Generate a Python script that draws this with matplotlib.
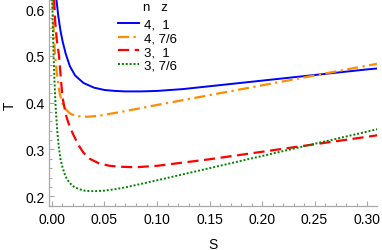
import matplotlib
matplotlib.use("Agg")
import matplotlib.pyplot as plt
from matplotlib.ticker import MultipleLocator

plt.rcParams['font.family'] = ['Liberation Sans', 'DejaVu Sans']

# values
S_41 = [0.004, 0.006, 0.008, 0.010, 0.013, 0.017, 0.022, 0.030, 0.040, 0.050, 0.060, 0.070,
        0.085, 0.100, 0.125, 0.150, 0.175, 0.200, 0.225, 0.250, 0.275, 0.300, 0.315]
T_41 = [0.625, 0.585, 0.555, 0.532, 0.505, 0.478, 0.458, 0.442, 0.432, 0.427, 0.425, 0.424,
        0.424, 0.425, 0.429, 0.435, 0.441, 0.447, 0.453, 0.459, 0.465, 0.471, 0.474]

S_476 = [0.0005, 0.001, 0.002, 0.003, 0.005, 0.0075, 0.010, 0.013, 0.017, 0.022, 0.028, 0.035,
         0.045, 0.055, 0.070, 0.100, 0.150, 0.200, 0.250, 0.300, 0.315]
T_476 = [0.630, 0.590, 0.535, 0.500, 0.455, 0.418, 0.398, 0.386, 0.377, 0.372, 0.370, 0.370,
         0.372, 0.376, 0.382, 0.395, 0.416, 0.437, 0.458, 0.479, 0.485]

S_31 = [0.002, 0.003, 0.0045, 0.0067, 0.0085, 0.010, 0.012, 0.014, 0.017, 0.020, 0.025, 0.030,
        0.036, 0.045, 0.055, 0.065, 0.080, 0.100, 0.150, 0.200, 0.250, 0.300, 0.315]
T_31 = [0.625, 0.575, 0.535, 0.500, 0.450, 0.412, 0.388, 0.368, 0.348, 0.333, 0.310, 0.293,
        0.280, 0.270, 0.265, 0.263, 0.262, 0.265, 0.279, 0.295, 0.311, 0.327, 0.332]

S_376 = [0.0003, 0.0008, 0.0015, 0.0025, 0.0035, 0.005, 0.0065, 0.008, 0.010, 0.012, 0.014,
         0.017, 0.021, 0.026, 0.031, 0.036, 0.042, 0.050, 0.060, 0.070, 0.100, 0.150, 0.200,
         0.250, 0.300, 0.315]
T_376 = [0.625, 0.560, 0.500, 0.440, 0.390, 0.340, 0.305, 0.280, 0.262, 0.248, 0.238,
         0.228, 0.220, 0.215, 0.212, 0.211, 0.211, 0.212, 0.215, 0.219, 0.234, 0.260, 0.286,
         0.312, 0.338, 0.346]

labels = ['4,  1', '4, 7/6', '3,  1', '3, 7/6']

fig = plt.figure(figsize=(3.82, 2.51), dpi=100)
ax = fig.add_axes([0.127, 0.175, 0.86, 0.825])

ax.plot(S_41, T_41, color='#0000ff', lw=1.4, ls='-', label=labels[0])
ax.plot(S_476, T_476, color='#ff8c00', lw=1.6, ls=(0, (5, 2, 1, 2)), label=labels[1])
ax.plot(S_31, T_31, color='#ff0000', lw=1.6, ls=(0, (5, 2.5)), label=labels[2])
ax.plot(S_376, T_376, color='#008000', lw=1.4, ls=(0, (1, 1)), label=labels[3])

ax.set_xlim(-0.0033, 0.3095)
ax.set_ylim(0.179, 0.6214)

for side in ['top', 'right']:
    ax.spines[side].set_visible(False)
for side in ['left', 'bottom']:
    ax.spines[side].set_color('#a8a8a8')
    ax.spines[side].set_linewidth(0.9)

ax.xaxis.set_major_locator(MultipleLocator(0.05))
ax.xaxis.set_minor_locator(MultipleLocator(0.01))
ax.yaxis.set_major_locator(MultipleLocator(0.1))
ax.yaxis.set_minor_locator(MultipleLocator(0.02))
ax.xaxis.set_major_formatter(plt.FormatStrFormatter('%.2f'))
ax.yaxis.set_major_formatter(plt.FormatStrFormatter('%.1f'))

ax.tick_params(which='both', direction='in', color='#a8a8a8', width=0.8, labelsize=10)
ax.tick_params(which='major', length=3.5)
ax.tick_params(which='minor', length=2)
ax.tick_params(axis='x', pad=4)
ax.tick_params(axis='y', pad=2.5)

ax.set_xlabel('S', fontsize=10)
ax.set_ylabel('T', fontsize=10)
ax.xaxis.set_label_coords(0.5, -0.15)
ax.yaxis.set_label_coords(-0.098, 0.49)

leg = ax.legend(loc='upper left', bbox_to_anchor=(0.21, 0.905), frameon=False, fontsize=9.5,
                handlelength=1.6, handletextpad=0.4, labelspacing=0.1, borderpad=0,
                borderaxespad=0)
ax.text(0.288, 0.99, 'n   z', transform=ax.transAxes, fontsize=9.5, va='top', ha='left')

fig.savefig('out.png', dpi=100)
